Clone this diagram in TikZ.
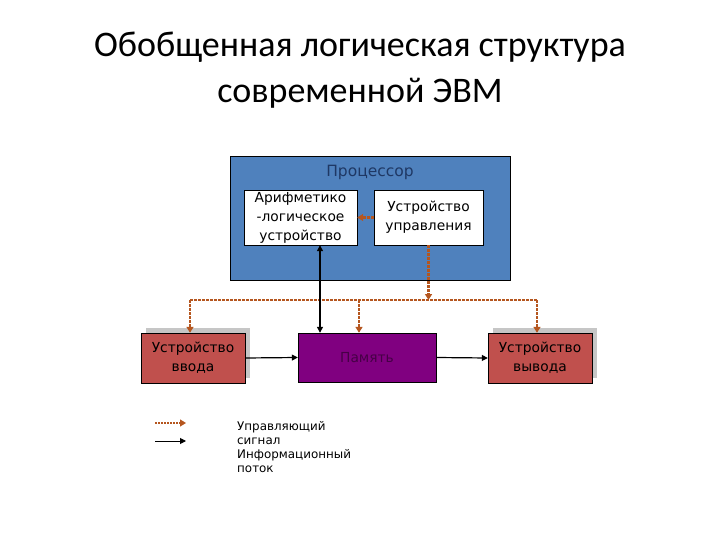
\documentclass[tikz,border=0pt]{standalone}
\usepackage{fontspec}
\setmainfont{DejaVu Sans}
\newfontfamily\titlefont{Carlito}
\usetikzlibrary{arrows.meta,shadows}
\definecolor{procblue}{HTML}{4F81BD}
\definecolor{devred}{HTML}{C0504D}
\definecolor{mempurple}{HTML}{800080}
\definecolor{ctrlbrown}{HTML}{B5561F}
\definecolor{titlenavy}{HTML}{1F3864}
\tikzset{
	unitbox/.style={draw=black, fill=white, minimum height=55pt, align=center, inner sep=0pt, font=\fontsize{13.8}{19}\selectfont},
	devbox/.style={draw=black, fill=devred, minimum width=104pt, minimum height=50pt, align=center, inner sep=0pt, font=\fontsize{13.8}{19}\selectfont,
		drop shadow={shadow xshift=5pt, shadow yshift=5pt, fill=gray!45, opacity=1}},
	ctrl/.style={ctrlbrown, line width=2.2pt, dash pattern=on 2.5pt off 1.5pt, -{Triangle[length=6pt,width=7pt]}},
	ctrlline/.style={ctrlbrown, line width=2.2pt, dash pattern=on 2.5pt off 1.5pt},
	info/.style={black, line width=1.2pt, -{Triangle[length=6pt,width=6pt]}}
}
\begin{document}
\begin{tikzpicture}[x=1pt,y=-1pt]
		\useasboundingbox (0,0) rectangle (720,540);
		% title
		\node[font=\titlefont\fontsize{36}{46}\selectfont, align=center] (title) at (360,70) {Обобщенная логическая структура\\современной ЭВМ};
		% processor
		\node[draw=black, line width=1pt, fill=procblue, minimum width=280pt, minimum height=123pt] (proc) at (370,218.5) {};
		\node[text=titlenavy, font=\fontsize{15.5}{17}\selectfont] (proctitle) at (370,172) {Процессор};
		\node[unitbox, minimum width=113pt] (alu) at (300.5,217.5) {Арифметико\\-логическое\\устройство};
		\node[unitbox, minimum width=109pt] (cu) at (428.5,217.5) {Устройство\\управления};
		% devices and memory
		\node[devbox] (inp) at (193,358) {Устройство\\ввода};
		\node[draw=black, fill=mempurple, minimum width=138pt, minimum height=49pt, text=mempurple!55!black, font=\fontsize{13.8}{16}\selectfont] (mem) at (367,357.5) {Память};
		\node[devbox] (outp) at (540,358) {Устройство\\вывода};
		% control signals
		\coordinate (busL) at (190,300);
		\coordinate (busR) at (537,300);
		\draw[ctrl] (cu.west) -- (alu.east);
		\draw[ctrl] (cu.south) -- (cu.south |- busL);
		\draw[ctrlline] (busL) -- (busR);
		\draw[ctrl] (busL) -- (busL |- inp.north);
		\draw[ctrl] ([xshift=-8pt]mem.north |- busL) -- ([xshift=-8pt]mem.north);
		\draw[ctrl] (busR) -- (busR |- outp.north);
		% information flow
		\draw[info, {Triangle[length=6pt,width=6pt]}-{Triangle[length=6pt,width=6pt]}] ([xshift=19.5pt]alu.south) -- ([xshift=-47pt]mem.north);
		\draw[info] (inp.east) -- (mem.west);
		\draw[info] (mem.east) -- (outp.west);
		% legend
		\coordinate (k1a) at (155,423);
		\coordinate (k1b) at (186,423);
		\coordinate (k2a) at (155,441);
		\coordinate (k2b) at (186,441);
		\draw[ctrl, line width=1.2pt, dash pattern=on 2pt off 1pt] (k1a) -- (k1b);
		\draw[info, line width=1pt] (k2a) -- (k2b);
		\node[anchor=north west, align=left, inner sep=0pt, font=\fontsize{11.9}{14}\selectfont] (keytext) at (237,421) {Управляющий\\сигнал\\Информационный\\поток};
	\end{tikzpicture}
\end{document}
